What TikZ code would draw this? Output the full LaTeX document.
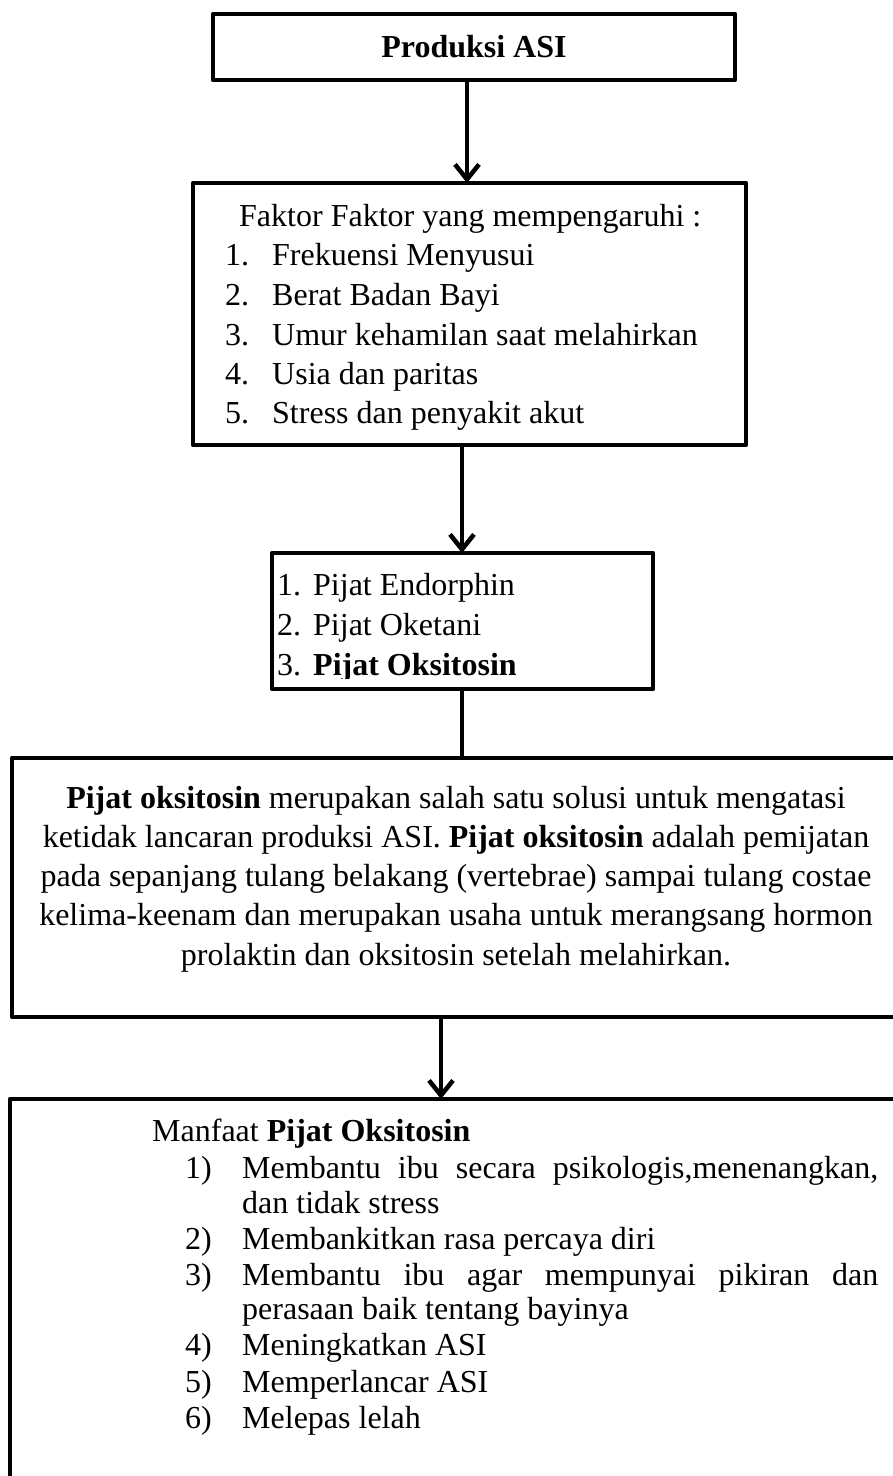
\documentclass[tikz,border=0pt]{standalone}
\usepackage{fontspec}
\setmainfont{Liberation Serif}
\usetikzlibrary{arrows.meta}
\begin{document}
\begin{tikzpicture}[x=1pt,y=-1pt,
  box/.style={draw=black,line width=4.5pt,line join=round,inner sep=0pt,outer sep=0pt,anchor=north west},
  conn/.style={line width=4.5pt},
  arr/.style={conn,-{Straight Barb[length=15pt,width=24pt]}},
  txt/.style={inner sep=0pt,anchor=base west,font=\fontsize{32}{38}\selectfont},
  ctxt/.style={inner sep=0pt,anchor=base,font=\fontsize{32}{38}\selectfont}]
\useasboundingbox (0,0) rectangle (893,1476);
\fill[white] (0,0) rectangle (893,1476);

% boxes
\node[box,minimum width=522pt,minimum height=66pt] (b1) at (213,14) {};
\node[box,minimum width=553pt,minimum height=262pt] (b2) at (193,183) {};
\node[box,minimum width=381pt,minimum height=136pt] (b3) at (272,553) {};
\node[box,minimum width=888pt,minimum height=259pt] (b4) at (12,758) {};
\node[box,minimum width=895pt,minimum height=420pt] (b5) at (10,1099) {};

% connector columns
\coordinate (x1) at (467,0);
\coordinate (x2) at (462,0);
\coordinate (x3) at (441,0);
\draw[arr] (x1 |- b1.south) -- (x1 |- b2.north);
\draw[arr] (x2 |- b2.south) -- (x2 |- b3.north);
\draw[conn] (x2 |- b3.south) -- (x2 |- b4.north);
\draw[arr] (x3 |- b4.south) -- (x3 |- b5.north);

% box 1
\node[ctxt] (t1) at (474,57) {\textbf{Produksi ASI}};

% box 2
\node[txt] (h2) at (239,226) {Faktor Faktor yang mempengaruhi :};
\node[txt] (n21) at (225,265) {1.};
\node[txt] (i21) at (272,265) {Frekuensi Menyusui};
\node[txt] (n22) at (225,305) {2.};
\node[txt] (i22) at (272,305) {Berat Badan Bayi};
\node[txt] (n23) at (225,345) {3.};
\node[txt] (i23) at (272,345) {Umur kehamilan saat melahirkan};
\node[txt] (n24) at (225,384) {4.};
\node[txt] (i24) at (272,384) {Usia dan paritas};
\node[txt] (n25) at (225,423) {5.};
\node[txt] (i25) at (272,423) {Stress dan penyakit akut};

% box 3
\begin{scope}
\clip (272,553) rectangle (653,678);
\node[txt] (n31) at (277,595) {1.};
\node[txt] (i31) at (313,595) {Pijat Endorphin};
\node[txt] (n32) at (277,635) {2.};
\node[txt] (i32) at (313,635) {Pijat Oketani};
\node[txt] (n33) at (277,675) {3.};
\node[txt] (i33) at (313,675) {\textbf{Pijat Oksitosin}};
\end{scope}

% box 4
\node[ctxt] (l41) at (456,808) {\textbf{Pijat oksitosin} merupakan salah satu solusi untuk mengatasi};
\node[ctxt] (l42) at (456,847) {ketidak lancaran produksi ASI. \textbf{Pijat oksitosin} adalah pemijatan};
\node[ctxt] (l43) at (456,886) {pada sepanjang tulang belakang (vertebrae) sampai tulang costae};
\node[ctxt] (l44) at (456,925) {kelima-keenam dan merupakan usaha untuk merangsang hormon};
\node[ctxt] (l45) at (456,965) {prolaktin dan oksitosin setelah melahirkan.};

% box 5
\node[txt] (h5) at (152,1141) {Manfaat \textbf{Pijat Oksitosin}};
\node[txt] (n51) at (185,1178) {1)};
\node[txt] (i51) at (242,1178) {\makebox[636pt][s]{Membantu ibu secara psikologis,menenangkan,}};
\node[txt] (i51b) at (242,1213) {dan tidak stress};
\node[txt] (n52) at (185,1249) {2)};
\node[txt] (i52) at (242,1249) {Membankitkan rasa percaya diri};
\node[txt] (n53) at (185,1285) {3)};
\node[txt] (i53) at (242,1285) {\makebox[636pt][s]{Membantu ibu agar mempunyai pikiran dan}};
\node[txt] (i53b) at (242,1319) {perasaan baik tentang bayinya};
\node[txt] (n54) at (185,1355) {4)};
\node[txt] (i54) at (242,1355) {Meningkatkan ASI};
\node[txt] (n55) at (185,1392) {5)};
\node[txt] (i55) at (242,1392) {Memperlancar ASI};
\node[txt] (n56) at (185,1428) {6)};
\node[txt] (i56) at (242,1428) {Melepas lelah};
\end{tikzpicture}
\end{document}
